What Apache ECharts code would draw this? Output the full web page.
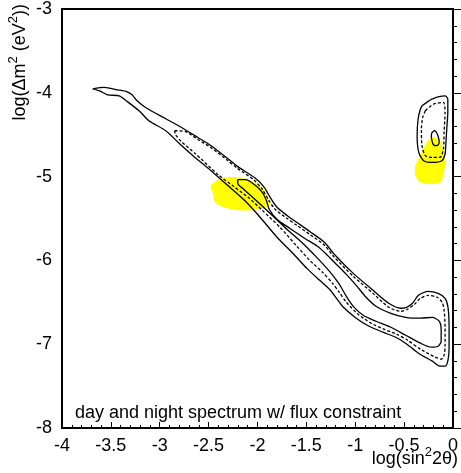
<!DOCTYPE html>
<html>
<head>
<meta charset="utf-8">
<script src="https://cdn.jsdelivr.net/npm/echarts@6/dist/echarts.min.js"></script>
<style>html,body{margin:0;padding:0;background:#fff}#c{width:461px;height:473px}</style>
</head>
<body>
<div id="c"></div>
<script>
// Tick labels
const xTickLabels = ['-4','-3.5','-3','-2.5','-2','-1.5','-1','-0.5','0'];
const yTickLabels = ['-8','-7','-6','-5','-4','-3'];

// Outer solid contour (log sin^2 2theta, log dm^2)
const outerContour = [
[-3.687,-3.952],[-3.566,-3.935],[-3.434,-3.964],[-3.333,-3.988],[-3.283,-4.024],[-3.232,-4.095],
[-3.141,-4.179],[-2.939,-4.310],[-2.808,-4.393],[-2.606,-4.536],[-2.475,-4.631],[-2.303,-4.786],
[-2.202,-4.881],[-2.030,-5.012],[-1.929,-5.131],[-1.869,-5.250],[-1.798,-5.369],[-1.697,-5.464],
[-1.596,-5.548],[-1.465,-5.655],[-1.313,-5.786],[-1.222,-5.917],[-1.020,-6.155],[-0.818,-6.357],
[-0.657,-6.512],[-0.535,-6.571],[-0.475,-6.560],[-0.414,-6.512],[-0.354,-6.417],[-0.253,-6.369],
[-0.152,-6.393],[-0.081,-6.452],[-0.051,-6.560],[-0.040,-6.798],[-0.040,-7.036],[-0.051,-7.190],
[-0.081,-7.262],[-0.131,-7.262],
[-0.212,-7.202],[-0.354,-7.107],[-0.485,-6.988],[-0.586,-6.917],[-0.717,-6.857],[-0.859,-6.786],
[-0.990,-6.690],[-1.121,-6.560],[-1.192,-6.452],[-1.263,-6.345],[-1.364,-6.238],[-1.495,-6.095],
[-1.636,-5.917],[-1.798,-5.726],[-1.980,-5.476],[-2.131,-5.286],[-2.303,-5.107],[-2.475,-4.929],
[-2.636,-4.774],[-2.808,-4.595],[-2.939,-4.452],[-3.111,-4.333],[-3.212,-4.214],[-3.343,-4.095],
[-3.414,-4.036],[-3.535,-4.024],[-3.616,-3.976],[-3.687,-3.952]
];

// Dashed contour
const dashedContour = [
[-2.848,-4.452],[-2.737,-4.464],[-2.606,-4.560],[-2.475,-4.655],[-2.303,-4.810],[-2.202,-4.905],
[-2.040,-5.036],[-1.949,-5.155],[-1.889,-5.274],[-1.818,-5.393],[-1.697,-5.500],[-1.596,-5.583],
[-1.465,-5.690],[-1.313,-5.821],[-1.222,-5.952],[-1.020,-6.190],[-0.818,-6.393],[-0.657,-6.560],
[-0.535,-6.607],[-0.465,-6.583],[-0.394,-6.524],[-0.333,-6.452],[-0.253,-6.417],[-0.162,-6.440],
[-0.111,-6.500],[-0.091,-6.595],[-0.081,-6.798],[-0.081,-7.012],[-0.091,-7.131],[-0.121,-7.179],
[-0.182,-7.155],
[-0.333,-7.060],[-0.465,-6.952],[-0.576,-6.881],[-0.707,-6.821],[-0.838,-6.750],[-0.970,-6.643],
[-1.091,-6.500],[-1.162,-6.381],[-1.232,-6.274],[-1.333,-6.143],[-1.465,-6.000],[-1.596,-5.833],
[-1.768,-5.607],[-1.949,-5.405],[-2.081,-5.262],[-2.242,-5.119],[-2.404,-4.976],[-2.636,-4.726],
[-2.778,-4.583],[-2.838,-4.500],[-2.848,-4.452]
];

// Inner solid contour
const innerContour = [
[-2.202,-5.036],[-2.121,-5.036],[-2.020,-5.107],[-1.949,-5.190],[-1.909,-5.286],[-1.879,-5.393],
[-1.798,-5.512],[-1.667,-5.619],[-1.515,-5.738],[-1.384,-5.833],[-1.303,-5.917],[-1.192,-6.048],
[-1.091,-6.167],[-0.990,-6.298],[-0.889,-6.440],[-0.788,-6.548],[-0.636,-6.631],[-0.485,-6.679],
[-0.333,-6.690],[-0.212,-6.679],[-0.141,-6.726],[-0.121,-6.833],[-0.121,-6.964],[-0.152,-7.024],
[-0.222,-7.036],
[-0.333,-6.988],[-0.485,-6.893],[-0.636,-6.798],[-0.788,-6.726],[-0.919,-6.655],[-1.020,-6.548],
[-1.091,-6.429],[-1.162,-6.286],[-1.263,-6.131],[-1.394,-5.964],[-1.535,-5.798],[-1.697,-5.631],
[-1.848,-5.464],[-1.980,-5.321],[-2.081,-5.214],[-2.162,-5.131],[-2.202,-5.083],[-2.202,-5.036]
];

// Upper-right island contours
const islandOuter = [
[-0.317,-4.155],[-0.215,-4.075],[-0.081,-4.036],[-0.053,-4.075],[-0.053,-4.235],[-0.064,-4.432],
[-0.074,-4.631],[-0.081,-4.730],[-0.114,-4.810],[-0.215,-4.830],[-0.300,-4.810],[-0.350,-4.710],
[-0.367,-4.512],[-0.357,-4.313],[-0.333,-4.194],[-0.317,-4.155]
];
const islandDashed = [
[-0.283,-4.214],[-0.199,-4.135],[-0.098,-4.115],[-0.081,-4.235],[-0.091,-4.473],[-0.098,-4.671],
[-0.131,-4.770],[-0.215,-4.770],[-0.283,-4.750],[-0.317,-4.631],[-0.323,-4.432],[-0.310,-4.294],
[-0.283,-4.214]
];
const islandInner = [
[-0.215,-4.473],[-0.189,-4.452],[-0.154,-4.512],[-0.141,-4.592],[-0.164,-4.631],[-0.199,-4.623],
[-0.215,-4.571],[-0.222,-4.512],[-0.215,-4.473]
];

// Yellow regions
const yellowMid = [
[-2.475,-5.107],[-2.374,-5.024],[-2.273,-5.006],[-2.172,-5.012],[-2.030,-5.071],[-1.929,-5.167],
[-1.879,-5.321],[-1.929,-5.369],[-2.071,-5.405],[-2.273,-5.387],[-2.424,-5.321],[-2.455,-5.202]
];
const yellowIsland = [
[-0.212,-4.530],[-0.131,-4.571],[-0.101,-4.690],[-0.081,-4.845],[-0.101,-4.988],[-0.131,-5.071],
[-0.232,-5.089],[-0.333,-5.071],[-0.384,-4.988],[-0.389,-4.893],[-0.364,-4.810],[-0.313,-4.690],
[-0.263,-4.583]
];

const FONT = 'Liberation Sans, Arial, Helvetica, sans-serif';

function polySeries(pts, color) {
  return {
    type: 'custom',
    z: 1,
    silent: true,
    data: [0],
    renderItem: function (params, api) {
      return {
        type: 'polygon',
        shape: { points: pts.map(p => api.coord(p)), smooth: 0.3 },
        style: { fill: color, stroke: null }
      };
    }
  };
}
function lineSeries(pts, dashed) {
  return {
    type: 'line',
    z: 3,
    data: pts,
    showSymbol: false,
    smooth: 0.25,
    silent: true,
    animation: false,
    lineStyle: { color: '#000', width: 1.3, type: dashed ? [3, 2] : 'solid' }
  };
}

const richStyles = {
  n: { fontSize: 18, fontFamily: FONT, fill: '#000', lineHeight: 22, verticalAlign: 'bottom' },
  s: { fontSize: 13, fontFamily: FONT, fill: '#000', lineHeight: 22, verticalAlign: 'top' }
};

const chart = echarts.init(document.getElementById('c'), null, { renderer: 'canvas' });
chart.setOption({
  animation: false,
  backgroundColor: '#fff',
  grid: { left: 62, top: 8, right: 3, bottom: 45, show: true, borderColor: '#000', borderWidth: 2, backgroundColor: 'transparent' },
  xAxis: {
    type: 'value', min: -4, max: 0, interval: 0.5,
    axisLine: { lineStyle: { color: '#000', width: 2 } },
    axisTick: { inside: true, length: 6, lineStyle: { color: '#000', width: 1 } },
    minorTick: { show: true, splitNumber: 5, length: 3, lineStyle: { color: '#000', width: 1 } },
    splitLine: { show: false },
    axisLabel: {
      color: '#000', fontSize: 18, fontFamily: FONT, margin: 9,
      formatter: v => xTickLabels[Math.round((v + 4) / 0.5)]
    }
  },
  yAxis: {
    type: 'value', min: -8, max: -3, interval: 1,
    axisLine: { lineStyle: { color: '#000', width: 2 } },
    axisTick: { inside: true, length: 8, lineStyle: { color: '#000', width: 1 } },
    minorTick: { show: true, splitNumber: 5, length: 4, lineStyle: { color: '#000', width: 1 } },
    splitLine: { show: false },
    axisLabel: {
      color: '#000', fontSize: 18, fontFamily: FONT, margin: 10,
      formatter: v => yTickLabels[Math.round(v + 8)]
    }
  },
  graphic: [
    { type: 'text', x: 18, y: 4, rotation: Math.PI / 2,
      style: { text: '{n|log(Δm}{s|2}{n| (eV}{s|2}{n|))}', rich: richStyles, fill: '#000', textAlign: 'right', textVerticalAlign: 'middle' } },
    { type: 'text', x: 458, y: 457,
      style: { text: '{n|log(sin}{s|2}{n|2θ)}', rich: richStyles, fill: '#000', textAlign: 'right', textVerticalAlign: 'middle' } },
    { type: 'text', x: 75, y: 413, z: 10,
      style: { text: 'day and night spectrum w/ flux constraint', fill: '#000', font: '18px ' + FONT, textAlign: 'left', textVerticalAlign: 'middle' } }
  ],
  series: [
    polySeries(yellowMid, '#ffff00'),
    polySeries(yellowIsland, '#ffff00'),
    lineSeries(outerContour, false),
    lineSeries(dashedContour, true),
    lineSeries(innerContour, false),
    lineSeries(islandOuter, false),
    lineSeries(islandDashed, true),
    lineSeries(islandInner, false)
  ]
});
</script>
</body>
</html>
